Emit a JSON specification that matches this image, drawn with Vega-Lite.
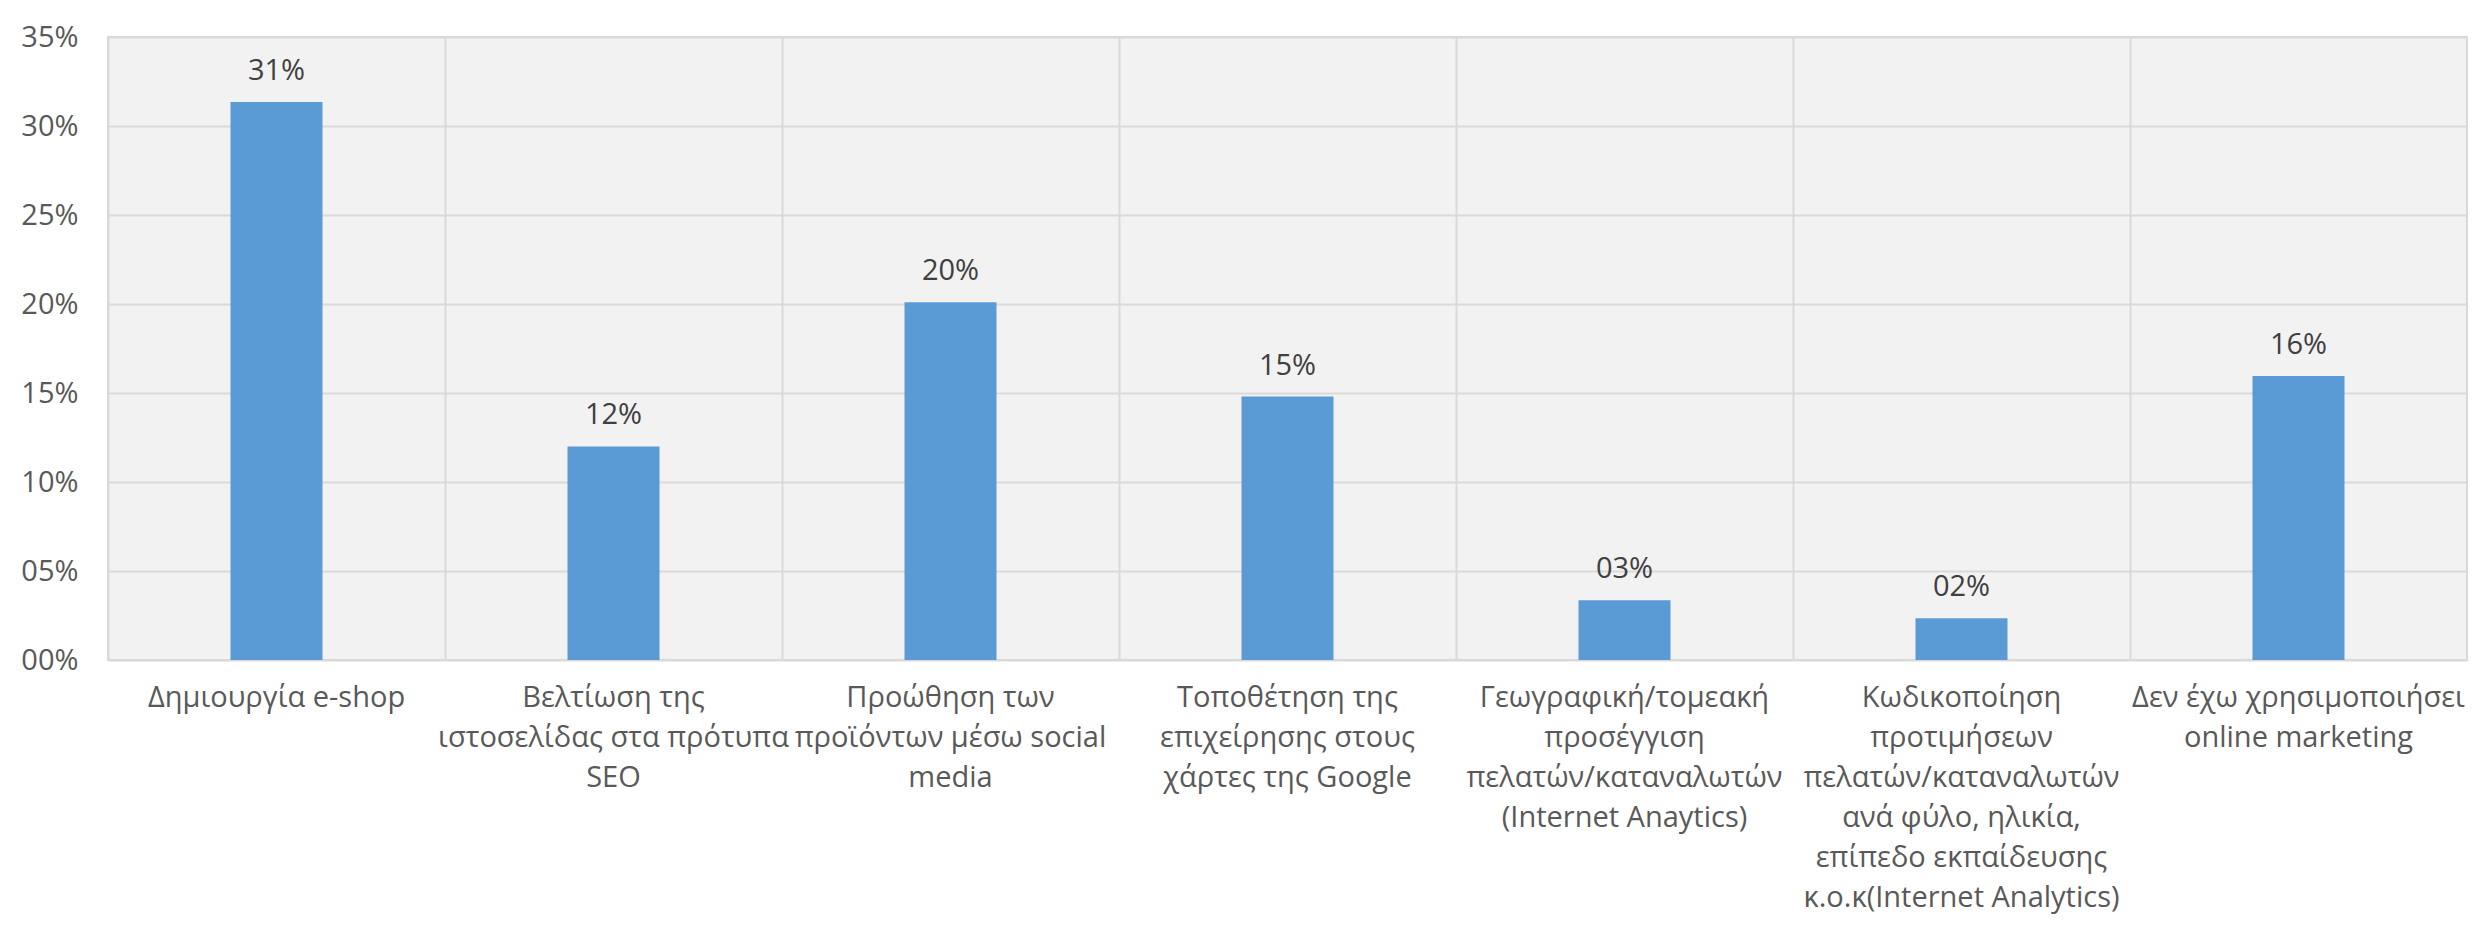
{
  "$schema": "https://vega.github.io/schema/vega-lite/v6.json",
  "autosize": {"type": "none"},
  "width": 2359,
  "height": 623,
  "padding": {"left": 108, "top": 37, "right": 21, "bottom": 269},
  "background": "white",
  "config": {
    "font": "Open Sans",
    "view": {"fill": "#f2f2f2", "stroke": "#d9d9d9", "strokeWidth": 2}
  },
  "data": {
    "values": [
      {"category": "Δημιουργία e-shop", "value": 0.3135},
      {"category": "Βελτίωση της|ιστοσελίδας στα πρότυπα|SEO", "value": 0.120},
      {"category": "Προώθηση των|προϊόντων μέσω social|media", "value": 0.201},
      {"category": "Τοποθέτηση της|επιχείρησης στους|χάρτες της Google", "value": 0.148},
      {"category": "Γεωγραφική/τομεακή|προσέγγιση|πελατών/καταναλωτών|(Internet Anaytics)", "value": 0.0335},
      {"category": "Κωδικοποίηση|προτιμήσεων|πελατών/καταναλωτών|ανά φύλο, ηλικία,|επίπεδο εκπαίδευσης|κ.ο.κ(Internet Analytics)", "value": 0.0235},
      {"category": "Δεν έχω χρησιμοποιήσει|online marketing", "value": 0.1595}
    ]
  },
  "encoding": {
    "x": {
      "field": "category",
      "type": "nominal",
      "sort": null,
      "scale": {"paddingInner": 0, "paddingOuter": 0},
      "axis": {
        "title": null,
        "labelAngle": 0,
        "labelExpr": "split(datum.value, '|')",
        "labelFont": "Open Sans",
        "labelFontSize": 29,
        "labelColor": "#595959",
        "labelLineHeight": 40,
        "labelPadding": 23,
        "labelBaseline": "top",
        "ticks": false,
        "domain": false,
        "grid": true,
        "bandPosition": 0,
        "gridColor": "#d9d9d9",
        "gridWidth": 2,
        "labelLimit": 0
      }
    },
    "y": {
      "field": "value",
      "type": "quantitative",
      "scale": {"domain": [0, 0.35], "nice": false},
      "axis": {
        "title": null,
        "values": [0, 0.05, 0.1, 0.15, 0.2, 0.25, 0.3, 0.35],
        "format": "03.0%",
        "labelFont": "Open Sans",
        "labelFontSize": 29,
        "labelColor": "#595959",
        "labelPadding": 30,
        "ticks": false,
        "domain": false,
        "grid": true,
        "gridColor": "#d9d9d9",
        "gridWidth": 2
      }
    }
  },
  "layer": [
    {
      "mark": {"type": "bar", "color": "#5b9bd5", "width": {"band": 0.273}}
    },
    {
      "mark": {"type": "text", "baseline": "bottom", "dy": -16, "fontSize": 29, "font": "Open Sans", "color": "#404040"},
      "encoding": {
        "text": {"field": "value", "type": "quantitative", "format": "03.0%"}
      }
    }
  ]
}
